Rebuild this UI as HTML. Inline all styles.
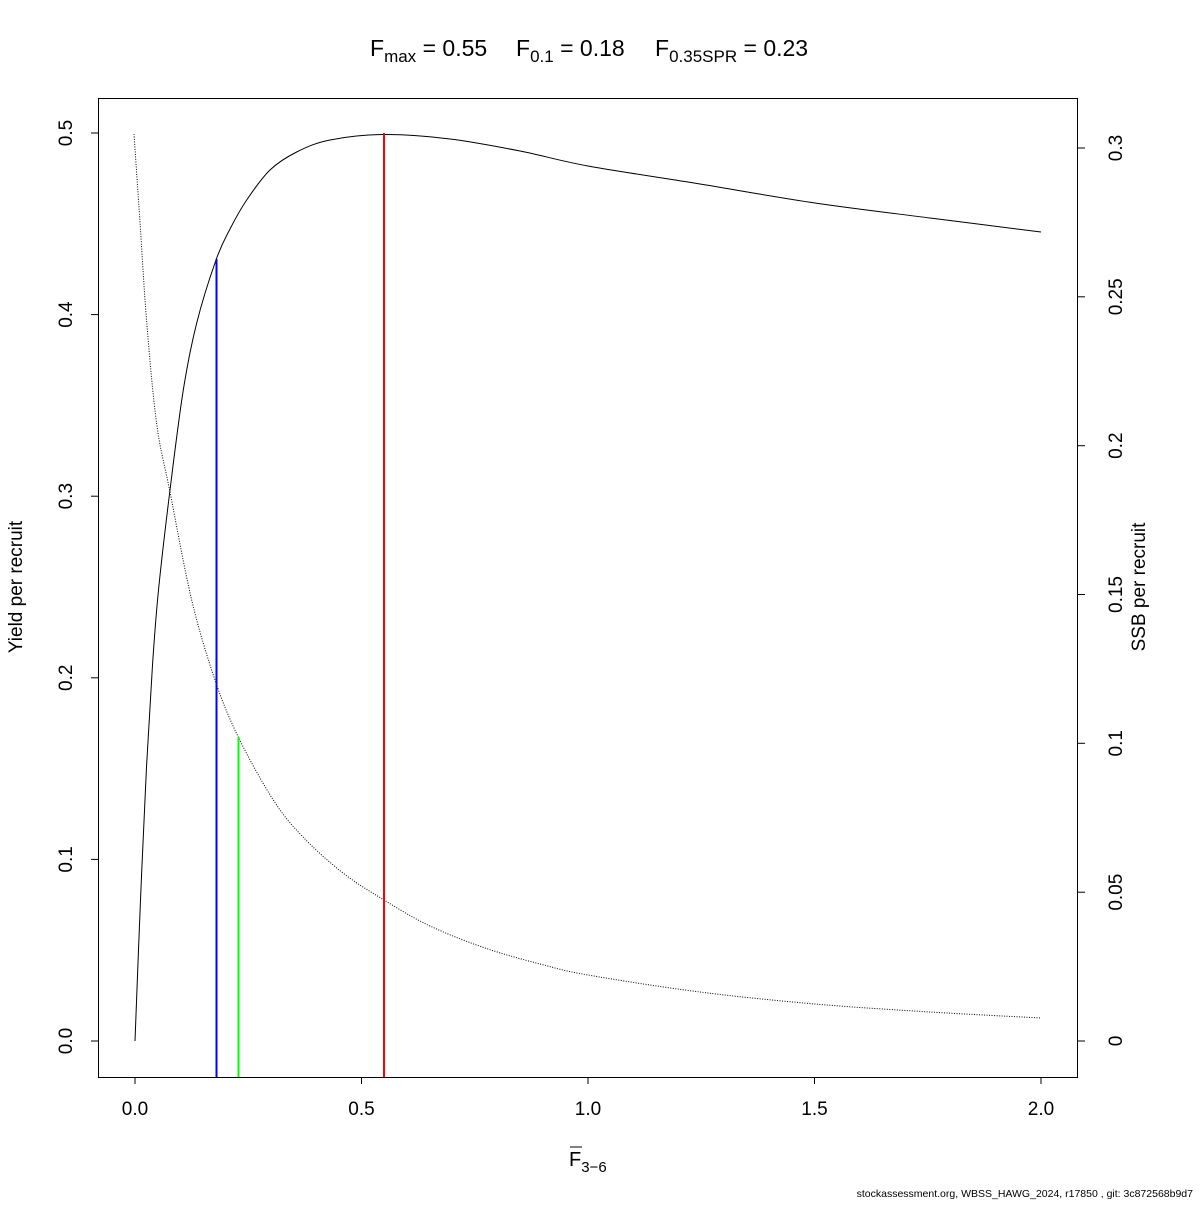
<!DOCTYPE html>
<html><head><meta charset="utf-8"><style>
html,body{margin:0;padding:0;background:#fff;}
svg text{font-family:"Liberation Sans",Arial,sans-serif;fill:#000;}
</style></head><body>
<svg width="1200" height="1200" viewBox="0 0 1200 1200" xmlns="http://www.w3.org/2000/svg">
<rect width="1200" height="1200" fill="#fff"/>
<text x="370" y="56" font-size="23">F<tspan font-size="17" dy="6">max</tspan><tspan dy="-6"> = 0.55</tspan></text>
<text x="516" y="56" font-size="23">F<tspan font-size="17" dy="6">0.1</tspan><tspan dy="-6"> = 0.18</tspan></text>
<text x="655" y="56" font-size="23">F<tspan font-size="17" dy="6">0.35SPR</tspan><tspan dy="-6"> = 0.23</tspan></text>
<rect x="98.5" y="98.5" width="979" height="979" fill="none" stroke="#000" stroke-width="1"/>
<g stroke="#000" stroke-width="1">
<line x1="135" y1="1077" x2="135" y2="1084"/>
<line x1="361.5" y1="1077" x2="361.5" y2="1084"/>
<line x1="588" y1="1077" x2="588" y2="1084"/>
<line x1="814.5" y1="1077" x2="814.5" y2="1084"/>
<line x1="1041" y1="1077" x2="1041" y2="1084"/>
<line x1="91" y1="1041" x2="98" y2="1041"/>
<line x1="91" y1="859.4" x2="98" y2="859.4"/>
<line x1="91" y1="677.8" x2="98" y2="677.8"/>
<line x1="91" y1="496.2" x2="98" y2="496.2"/>
<line x1="91" y1="314.6" x2="98" y2="314.6"/>
<line x1="91" y1="133" x2="98" y2="133"/>
<line x1="1078" y1="1041" x2="1085" y2="1041"/>
<line x1="1078" y1="892.2" x2="1085" y2="892.2"/>
<line x1="1078" y1="743.3" x2="1085" y2="743.3"/>
<line x1="1078" y1="594.5" x2="1085" y2="594.5"/>
<line x1="1078" y1="445.7" x2="1085" y2="445.7"/>
<line x1="1078" y1="296.8" x2="1085" y2="296.8"/>
<line x1="1078" y1="148" x2="1085" y2="148"/>
</g>
<g font-size="19" text-anchor="middle">
<text x="135" y="1115">0.0</text>
<text x="361.5" y="1115">0.5</text>
<text x="588" y="1115">1.0</text>
<text x="814.5" y="1115">1.5</text>
<text x="1041" y="1115">2.0</text>
<text transform="translate(72,1041) rotate(-90)">0.0</text>
<text transform="translate(72,859.4) rotate(-90)">0.1</text>
<text transform="translate(72,677.8) rotate(-90)">0.2</text>
<text transform="translate(72,496.2) rotate(-90)">0.3</text>
<text transform="translate(72,314.6) rotate(-90)">0.4</text>
<text transform="translate(72,133) rotate(-90)">0.5</text>
<text transform="translate(1122,1041) rotate(-90)">0</text>
<text transform="translate(1122,892.2) rotate(-90)">0.05</text>
<text transform="translate(1122,743.3) rotate(-90)">0.1</text>
<text transform="translate(1122,594.5) rotate(-90)">0.15</text>
<text transform="translate(1122,445.7) rotate(-90)">0.2</text>
<text transform="translate(1122,296.8) rotate(-90)">0.25</text>
<text transform="translate(1122,148) rotate(-90)">0.3</text>
<text transform="translate(22,587) rotate(-90)">Yield per recruit</text>
<text transform="translate(1145,587) rotate(-90)">SSB per recruit</text>
</g>
<text x="569" y="1166" font-size="20">F<tspan font-size="15" dy="6">3−6</tspan></text>
<line x1="570" y1="1147" x2="582" y2="1147" stroke="#000" stroke-width="1"/>
<text x="1193" y="1197" font-size="10.5" text-anchor="end">stockassessment.org, WBSS_HAWG_2024, r17850 , git: 3c872568b9d7</text>
<path id="yc" fill="none" stroke="#000" stroke-width="1" d=""/>
<path id="sc" fill="none" stroke="#000" stroke-width="1" stroke-dasharray="1,1.5" d=""/>
<line x1="216.5" y1="259" x2="216.5" y2="1077" stroke="#0000ff" stroke-width="2"/>
<line x1="238.5" y1="737" x2="238.5" y2="1077" stroke="#00ff00" stroke-width="2"/>
<line x1="384" y1="133" x2="384" y2="1077" stroke="#ff0000" stroke-width="2"/>
</svg>
<script>
function cr(p){
  var d="M"+p[0][0]+","+p[0][1];
  for(var i=0;i<p.length-1;i++){
    var p0=p[i-1]||p[i],p1=p[i],p2=p[i+1],p3=p[i+2]||p[i+1];
    var c1x=p1[0]+(p2[0]-p0[0])/6,c1y=p1[1]+(p2[1]-p0[1])/6;
    var c2x=p2[0]-(p3[0]-p1[0])/6,c2y=p2[1]-(p3[1]-p1[1])/6;
    d+=" C"+c1x.toFixed(2)+","+c1y.toFixed(2)+" "+c2x.toFixed(2)+","+c2y.toFixed(2)+" "+p2[0]+","+p2[1];
  }
  return d;
}
var Y=[[135,1041],[140.5,900],[146.5,767],[152.5,665],[158.5,590],[170,490],[183.3,390],[196.7,323],[216,260],[230,229],[246.7,200],[270,170],[296.7,152],[330,140],[384,134.5],[450,139],[520,151],[588,166],[700,184],[815,203],[930,218],[1041,232]];
var S=[[134,134],[137,178],[140,222],[146.7,322],[156.7,424],[170,492],[191.7,600],[215,680],[238.3,737],[273.3,800],[303,837],[343,873],[384,900],[430,926],[485,948],[540,964],[588,975],[700,992],[815,1004],[930,1012],[1041,1018]];
document.getElementById("yc").setAttribute("d",cr(Y));
document.getElementById("sc").setAttribute("d",cr(S));
</script>
</body></html>
